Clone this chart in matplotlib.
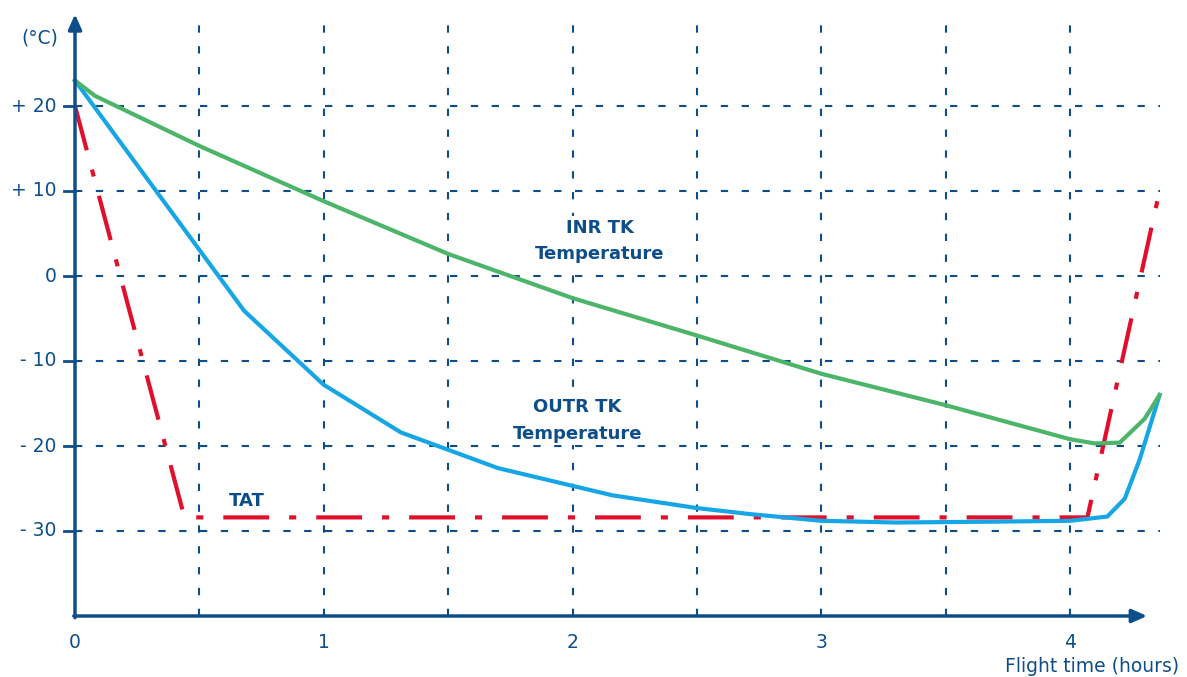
import matplotlib.pyplot as plt

# flight time (hours) / temperature (deg C)
inr_t = [0, 0.08, 0.5, 1.0, 1.5, 2.0, 2.5, 3.0, 3.5, 4.0, 4.1, 4.2, 4.3, 4.36]
inr_temp = [23, 21.2, 15.3, 8.8, 2.6, -2.6, -7.0, -11.5, -15.2, -19.2, -19.7, -19.6, -16.8, -14]

outr_t = [0, 0.68, 1.0, 1.31, 1.7, 2.16, 2.5, 2.71, 3.0, 3.3, 3.7, 4.0, 4.15, 4.22, 4.28, 4.36]
outr_temp = [23, -4.1, -12.8, -18.4, -22.6, -25.8, -27.3, -28.0, -28.8, -29.0, -28.9, -28.8, -28.3, -26.2, -21.6, -14]

tat_t = [0, 0.44, 4.07, 4.36]
tat_temp = [20, -28.4, -28.4, 10]

y_ticks = [20, 10, 0, -10, -20, -30]
y_labels = ['+ 20', '+ 10', '0', '- 10', '- 20', '- 30']
x_ticks = [0, 1, 2, 3, 4]
x_grid = [0.5, 1, 1.5, 2, 2.5, 3, 3.5, 4]

navy = '#0d4e8a'
plt.rcParams['font.family'] = ['DejaVu Sans']

fig = plt.figure(figsize=(11.87, 6.77), dpi=100)
ax = fig.add_axes([0, 0, 1, 1])
ax.set_xlim(-75 / 248.75, (1187 - 75) / 248.75)
ax.set_ylim(-401 / 8.5, 276 / 8.5)
ax.axis('off')

# dashed grid
for x in x_grid:
    ax.plot([x, x], [-40, 30.8], color=navy, lw=1.5, dashes=(3.5, 6.5))
for y, lab in zip(y_ticks, y_labels):
    ax.plot([0, 4.36], [y, y], color=navy, lw=1.5, dashes=(3.5, 6.5))
    ax.plot([-0.045, 0], [y, y], color=navy, lw=2)
    ax.text(-0.075, y, lab, color=navy, fontsize=13.5, ha='right', va='center')

for x in x_ticks:
    ax.text(x, -43.1, str(x), color=navy, fontsize=13.5, ha='center', va='center')

# axes with arrows
ax.annotate('', xy=(0, 30.8), xytext=(0, -40.2),
            arrowprops=dict(arrowstyle='-|>,head_length=0.9,head_width=0.4',
                            color=navy, lw=2.5, shrinkA=0, shrinkB=0))
ax.annotate('', xy=(4.31, -40), xytext=(-0.005, -40),
            arrowprops=dict(arrowstyle='-|>,head_length=0.9,head_width=0.4',
                            color=navy, lw=2.5, shrinkA=0, shrinkB=0))

ax.text(-0.14, 28, '(°C)', color=navy, fontsize=13.5, ha='center', va='center')
ax.text(4.44, -45.9, 'Flight time (hours)', color=navy, fontsize=13.5,
        ha='right', va='center')

# curves
ax.plot(tat_t, tat_temp, color='#e0102c', lw=3, dashes=(11, 4.8, 1.7, 4.8),
        solid_joinstyle='miter')
ax.plot(outr_t, outr_temp, color='#16a6e6', lw=3)
ax.plot(inr_t, inr_temp, color='#4cb56a', lw=3)

box = dict(facecolor='white', edgecolor='none', pad=2)
ax.text(2.11, 4.1, 'INR TK\nTemperature', color=navy, fontsize=13,
        fontweight='bold', ha='center', va='center', linespacing=1.6, bbox=box)
ax.text(2.02, -17.0, 'OUTR TK\nTemperature', color=navy, fontsize=13,
        fontweight='bold', ha='center', va='center', linespacing=1.6, bbox=box)
ax.text(0.69, -26.5, 'TAT', color=navy, fontsize=13, fontweight='bold',
        ha='center', va='center', bbox=box)

fig.savefig('out.png', dpi=100)
